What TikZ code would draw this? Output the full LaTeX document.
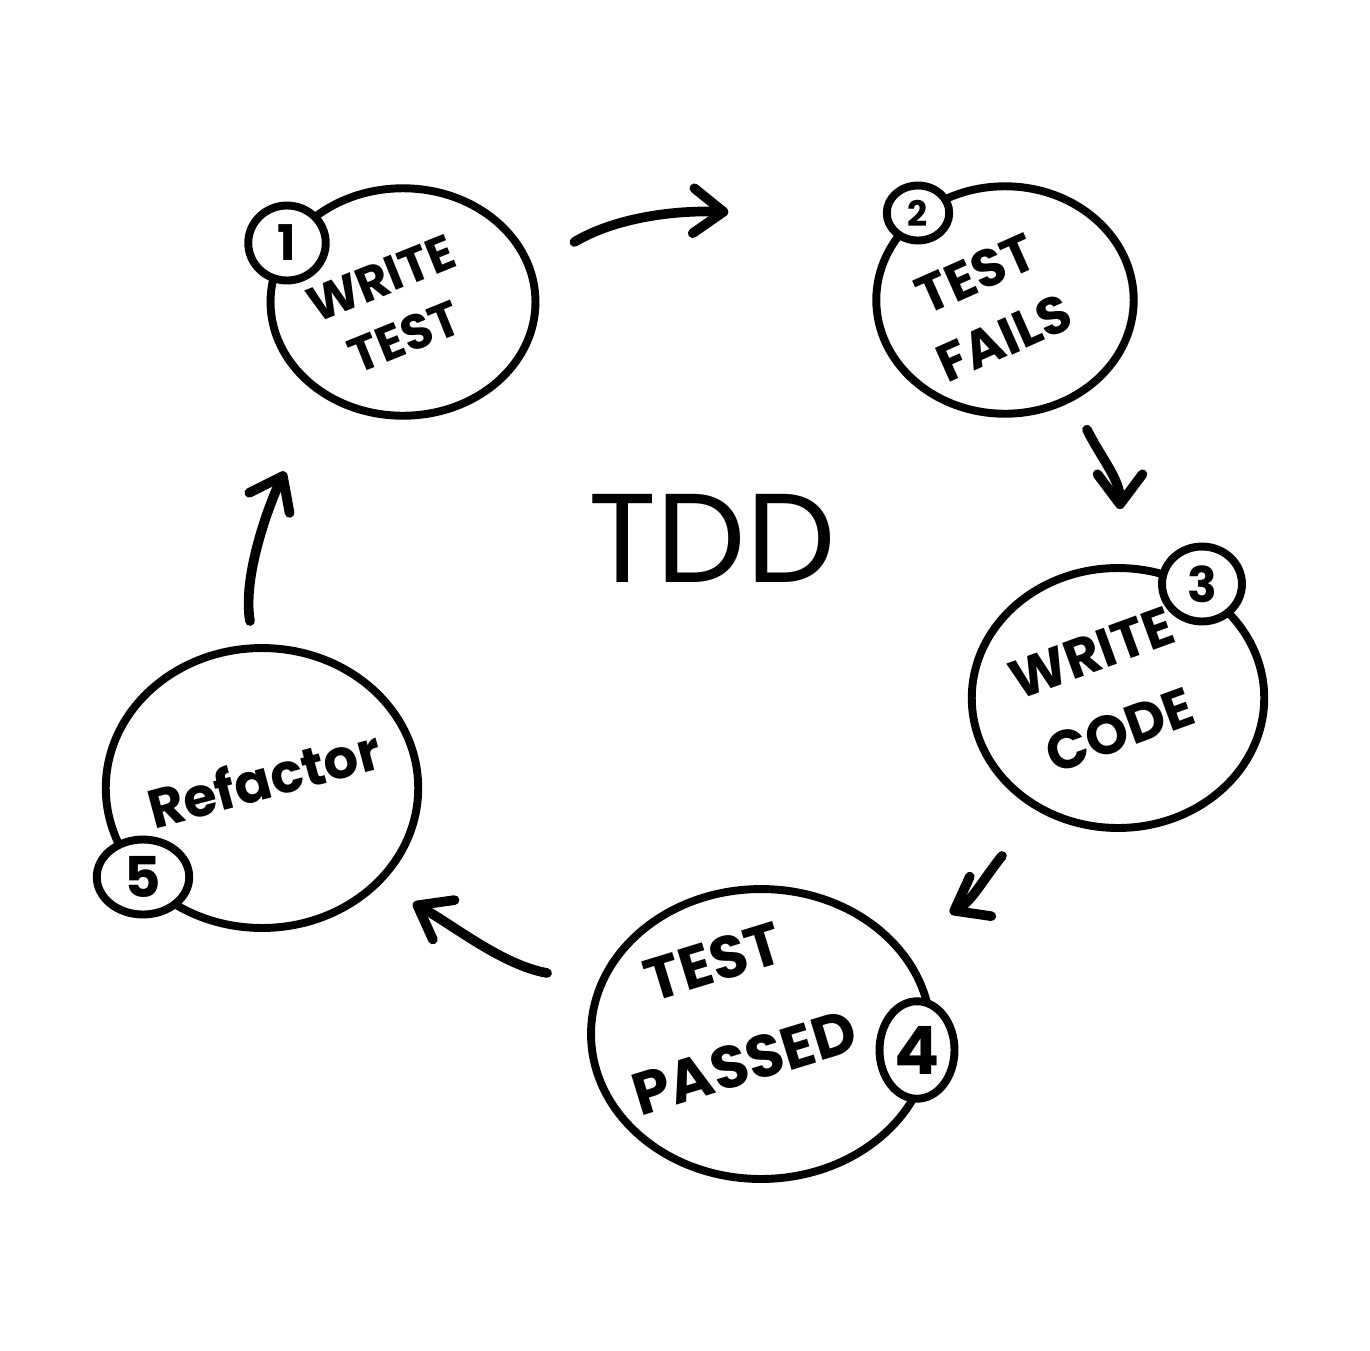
\documentclass[tikz,border=0pt]{standalone}
\usepackage{fontspec}
\setmainfont{Poppins}
\usetikzlibrary{arrows.meta,shapes.geometric}
\tikzset{
  tddring/.style={ellipse,draw=black,line width=4.5pt,inner sep=0pt},
  tddnum/.style={tddring,fill=white},
  tddtext/.style={align=center,inner sep=0pt},
  tddflow/.style={line width=5.5pt,line cap=round,
                  -{Straight Barb[round,length=6mm,width=9mm]}}
}

\begin{document}
\begin{tikzpicture}[x=0.02cm,y=-0.02cm]
  \useasboundingbox[fill=white] (0,0) rectangle (1370,1350);

  % the five steps
  \node[tddring,minimum width=5.3cm,minimum height=4.55cm] (wt) at (403,302) {};
  \node[tddring,minimum width=5.15cm,minimum height=4.55cm] (tf) at (1005,300) {};
  \node[tddring,minimum width=5.85cm,minimum height=5.2cm] (wc) at (1118,698) {};
  \node[tddring,minimum width=6.8cm,minimum height=5.8cm] (tp) at (761,1034) {};
  \node[tddring,minimum width=6.25cm,minimum height=5.6cm] (rf) at (262,788) {};

  \node[tddtext,rotate=22,font=\fontsize{28}{36}\selectfont\bfseries] (wtlabel)
    at ([shift={(-10,6)}]wt.center) {WRITE\\TEST};
  \node[tddtext,rotate=24,font=\fontsize{30}{40}\selectfont\bfseries] (tflabel)
    at ([shift={(-15,6)}]tf.center) {TEST\\FAILS};
  \node[tddtext,rotate=20,font=\fontsize{31}{47}\selectfont\bfseries] (wclabel)
    at ([shift={(-12,-6)}]wc.center) {WRITE\\CODE};
  \node[tddtext,rotate=17,font=\fontsize{34}{60}\selectfont\bfseries] (tplabel)
    at ([shift={(-32,-22)}]tp.center) {TEST\\PASSED};
  \node[tddtext,rotate=15,font=\fontsize{31}{38}\selectfont\bfseries] (rflabel)
    at ([shift={(2,-10)}]rf.center) {Refactor};

  % step numbers
  \node[tddnum,minimum width=1.55cm,minimum height=1.5cm,
        font=\fontsize{28}{30}\selectfont\bfseries] (n1) at (287,243) {1};
  \node[tddnum,minimum width=1.25cm,minimum height=1.1cm,
        font=\fontsize{20}{22}\selectfont\bfseries] (n2) at (918,213) {2};
  \node[tddnum,minimum width=1.6cm,minimum height=1.5cm,
        font=\fontsize{28}{30}\selectfont\bfseries] (n3) at (1202,584) {3};
  \node[tddnum,minimum width=1.5cm,minimum height=1.95cm,
        font=\fontsize{38}{40}\selectfont\bfseries] (n4) at (917,1050) {4};
  \node[tddnum,minimum width=1.85cm,minimum height=1.5cm,
        font=\fontsize{32}{34}\selectfont\bfseries] (n5) at (143,877) {5};

  \node[font=\fontsize{72}{76}\selectfont] (tdd) at (712,538) {TDD};

  % arrow ends
  \coordinate (a12s) at ([shift={(35,-60)}]wt.east);
  \coordinate (a12e) at ([shift={(-144,-88)}]tf.west);
  \coordinate (a23s) at ([shift={(82,12)}]tf.south);
  \coordinate (a23e) at ([shift={(2,-55)}]wc.north);
  \coordinate (a34s) at ([shift={(-116,24)}]wc.south);
  \coordinate (a34e) at ([shift={(189,28)}]tp.north);
  \coordinate (a45s) at ([shift={(-40,-61)}]tp.west);
  \coordinate (a45e) at ([shift={(-9,115)}]rf.east);
  \coordinate (a51s) at ([shift={(-12,-23)}]rf.north);
  \coordinate (a51e) at ([shift={(-118,52)}]wt.south);

  \draw[tddflow] (a12s) .. controls +(40,-24) and +(-55,-2) .. (a12e);
  \draw[tddflow] (a23s) .. controls +(15,30) and +(0,-30) .. (a23e);
  \draw[tddflow] (a34s) .. controls +(-20,25) and +(22,-12) .. (a34e);
  \draw[tddflow] (a45s) .. controls +(-45,-8) and +(40,22) .. (a45e);
  \draw[tddflow] (a51s) .. controls +(-8,-45) and +(-15,30) .. (a51e);
\end{tikzpicture}
\end{document}
